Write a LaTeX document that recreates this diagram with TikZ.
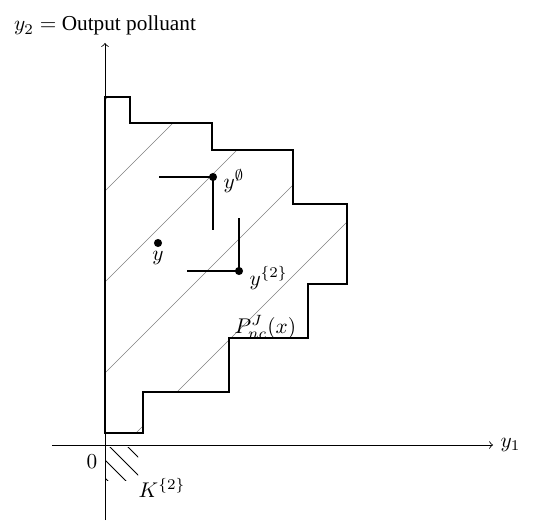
\documentclass[tikz,border=0pt]{standalone}
\usepackage{fontspec}
\setmainfont{Liberation Serif}
\tikzset{
  dot/.style={circle, fill=black, inner sep=0pt, minimum size=3.8pt},
  hatch/.style={gray, very thin},
  cone/.style={line width=0.5pt}
}
\begin{document}
\begin{tikzpicture}[x=0.47pt, y=0.47pt]
        \useasboundingbox (-105,-75) rectangle (430,445);

        % Staircase region P_nc^J(x)
        \path[save path=\stairpath] (0,348) -- (25,348) -- (25,322) -- (107,322) -- (107,295)
            -- (188,295) -- (188,241) -- (242,241) -- (242,161) -- (203,161) -- (203,107)
            -- (124,107) -- (124,53) -- (38,53) -- (38,12) -- (0,12) -- cycle;
        \begin{scope}
            \clip[use path=\stairpath];
            \foreach \c in {345, 254, 163, 72, -19} {
                \draw[hatch] (-20,-20+\c) -- (400,400+\c);
            }
        \end{scope}
        \draw[line width=0.5pt, use path=\stairpath];

        % Draw axes
        \draw[->] (-53,0) -- (388,0) node[right] (ya) {$y_1$};
        \draw[->] (0,-75) -- (0,402) node[above] (yb) {$y_2 =$ Output polluant};
        \node (zero) at (-13,-17) {$0$};

        % Cone K^{2}
        \begin{scope}
            \clip (0,-35) rectangle (33,-2);
            \foreach \c in {-33, -15, 3, 21} {
                \draw[thin] (-20,20+\c) -- (60,-60+\c);
            }
        \end{scope}
        \node (kcone) at (57,-43) {$K^{\{2\}}$};

        % Points and their cones
        \node[dot] (yempty) at (108,268) {};
        \coordinate (yemptyl) at (54,268);
        \coordinate (yemptyd) at (108,215);
        \draw[cone] (yempty.center) -- (yemptyl);
        \draw[cone] (yempty.center) -- (yemptyd);
        \node[anchor=west] (lempty) at (111,264) {$y^{\emptyset}$};

        \node[dot] (ytwo) at (134,174) {};
        \coordinate (ytwol) at (82,174);
        \coordinate (ytwou) at (134,227);
        \draw[cone] (ytwo.center) -- (ytwol);
        \draw[cone] (ytwo.center) -- (ytwou);
        \node[anchor=west] (ltwo) at (137,167) {$y^{\{2\}}$};

        \node[dot] (ybar) at (53,202) {};
        \node (lbar) at (53,187) {$y$};

        \node[anchor=west] (lset) at (122,118) {$P^J_{nc}(x)$};
    \end{tikzpicture}
\end{document}
